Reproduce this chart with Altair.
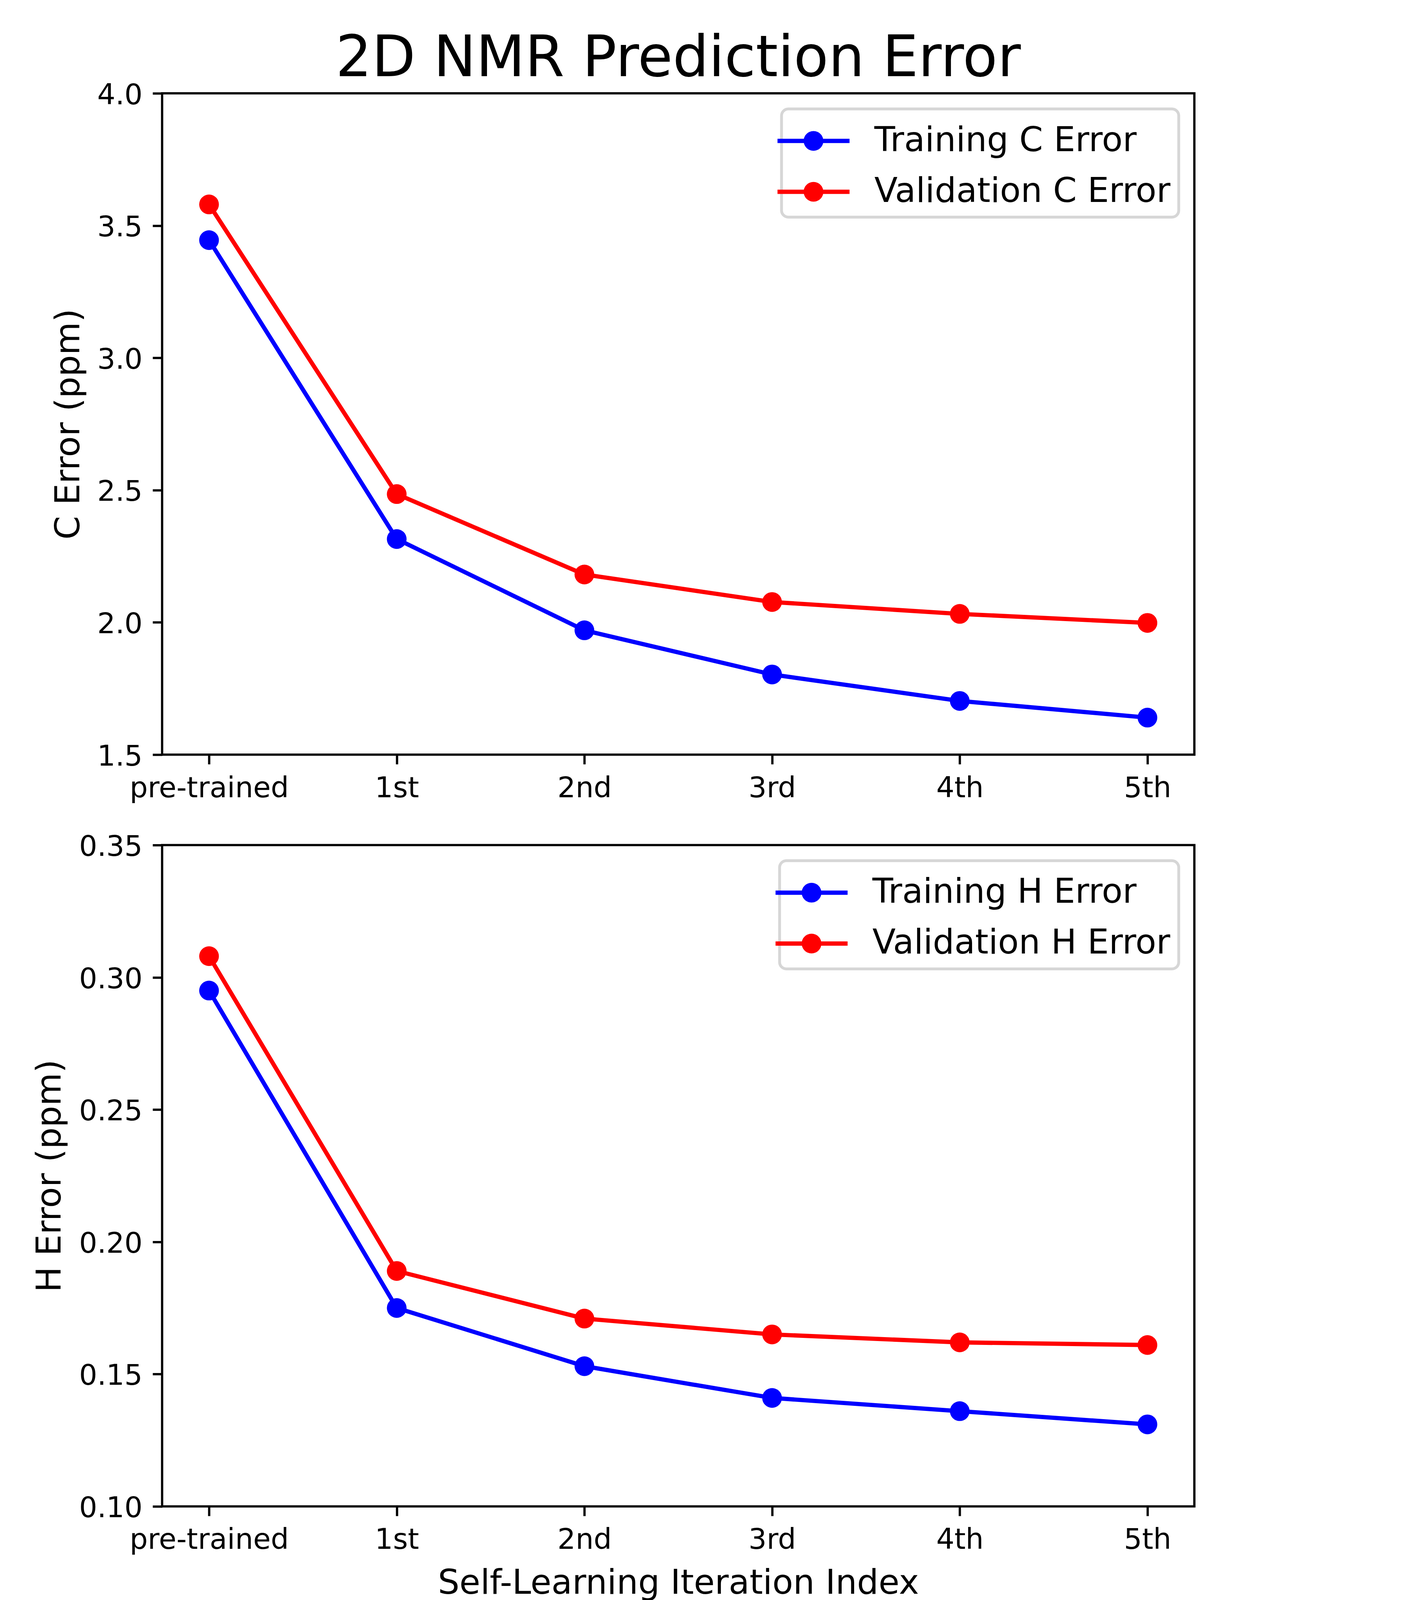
import altair as alt
import pandas as pd

# ---- data ----
iterations = ["pre-trained", "1st", "2nd", "3rd", "4th", "5th"]

train_c = [3.445, 2.315, 1.97, 1.803, 1.703, 1.640]
valid_c = [3.580, 2.485, 2.181, 2.077, 2.032, 1.998]

train_h = [0.295, 0.175, 0.153, 0.141, 0.136, 0.131]
valid_h = [0.308, 0.189, 0.171, 0.165, 0.162, 0.161]

c_series = ["Training C Error", "Validation C Error"]
h_series = ["Training H Error", "Validation H Error"]
line_colors = ["#0000ff", "#ff0000"]

c_ticks = [1.5, 2.0, 2.5, 3.0, 3.5, 4.0]
h_ticks = [0.10, 0.15, 0.20, 0.25, 0.30, 0.35]

TITLE = "2D NMR Prediction Error"
FONT = "DejaVu Sans"

# overall size factor (the page is photographed slightly enlarged)
S = 0.8703
W, H = round(3037 * S), round(1945 * S)

# legend symbol: a line with a dot in the middle (path units scaled by sqrt(size)/2)
LEG_PATH = ("M-1.514,-0.0893H1.514V0.0893H-1.514Z "
            "M0.414,0A0.414,0.414,0,1,1,-0.414,0A0.414,0.414,0,1,1,0.414,0Z")


def long_df(names, a, b):
    rows = []
    for i, it in enumerate(iterations):
        rows.append({"iter": it, "series": names[0], "value": a[i], "order": i})
    for i, it in enumerate(iterations):
        rows.append({"iter": it, "series": names[1], "value": b[i], "order": i})
    return pd.DataFrame(rows)


def panel(df, names, ydom, yticks, yfmt, ytitle, ytitle_x, xtitle, title=None):
    xkw = dict(labelAngle=0, labelPadding=30 * S, labelFlush=False, labelOverlap=False,
               labelLimit=3000)
    if xtitle:
        xaxis = alt.Axis(title=xtitle, titleY=256 * S, titleBaseline="alphabetic", **xkw)
    else:
        xaxis = alt.Axis(title=None, **xkw)
    x = alt.X("iter:N", sort=iterations,
              scale=alt.Scale(type="point", padding=0.25, domain=iterations),
              axis=xaxis)
    y = alt.Y("value:Q",
              scale=alt.Scale(domain=ydom, nice=False, zero=False),
              axis=alt.Axis(values=yticks, format=yfmt, title=ytitle, labelLimit=3000,
                            labelPadding=30 * S, labelBaseline="middle", labelOffset=6 * S,
                            titleX=ytitle_x * S, titleY=H / 2, titleBaseline="alphabetic",
                            titleAngle=270, titleAlign="center"))
    base = alt.Chart(df)
    layers = []
    # one line per series, drawn with its own fixed colour (no extra legend)
    for name, col in zip(names, line_colors):
        layers.append(
            base.transform_filter(alt.datum.series == name)
            .mark_line(strokeWidth=12.5 * S, color=col)
            .encode(x=x, y=y, order="order:Q")
        )
    pts = base.mark_point(filled=True, size=3364 * S * S, opacity=1, strokeWidth=0).encode(
        x=x, y=y,
        color=alt.Color("series:N", scale=alt.Scale(domain=names, range=line_colors),
                        legend=alt.Legend(
                            title=None, orient="top-right", offset=46 * S,
                            padding=24 * S, rowPadding=29 * S,
                            symbolType=LEG_PATH, symbolSize=19600 * S * S,
                            symbolStrokeWidth=0, symbolOpacity=1,
                            labelFont=FONT, labelFontSize=100 * S, labelColor="black",
                            labelOffset=109 * S, labelLimit=3000,
                            strokeColor="#d6d6d6",
                            fillColor="white", cornerRadius=20 * S,
                        )),
    )
    layers.append(pts)
    if title:
        layers.append(
            alt.Chart(pd.DataFrame({"t": [title]}))
            .mark_text(font=FONT, fontSize=167 * S, align="center", baseline="alphabetic",
                       color="black")
            .encode(text="t:N", x=alt.value(W / 2), y=alt.value(-50 * S))
        )
    return alt.layer(*layers).properties(width=W, height=H)


top = panel(long_df(c_series, train_c, valid_c), c_series, [1.5, 4.0], c_ticks, ".1f",
            "C Error (ppm)", -244, None, title=TITLE)

bottom = panel(long_df(h_series, train_h, valid_h), h_series, [0.10, 0.35], h_ticks, ".2f",
               "H Error (ppm)", -299, "Self-Learning Iteration Index")

chart = alt.vconcat(top, bottom, spacing=81 * S).resolve_scale(color="independent").properties(
    padding={"left": 84 * S, "top": 78 * S, "right": 20, "bottom": 20},
    background="white",
).configure_view(stroke="black", strokeWidth=6.7 * S).configure_axis(
    grid=False, domain=False, tickColor="black", tickWidth=6.7 * S, tickSize=28 * S,
    labelFont=FONT, labelFontSize=84 * S, labelColor="black",
    titleFont=FONT, titleFontSize=100 * S, titleFontWeight="normal", titleColor="black",
).configure_legend(strokeWidth=8.3 * S)

chart.save("out.html", embed_options={"renderer": "svg", "actions": False})
